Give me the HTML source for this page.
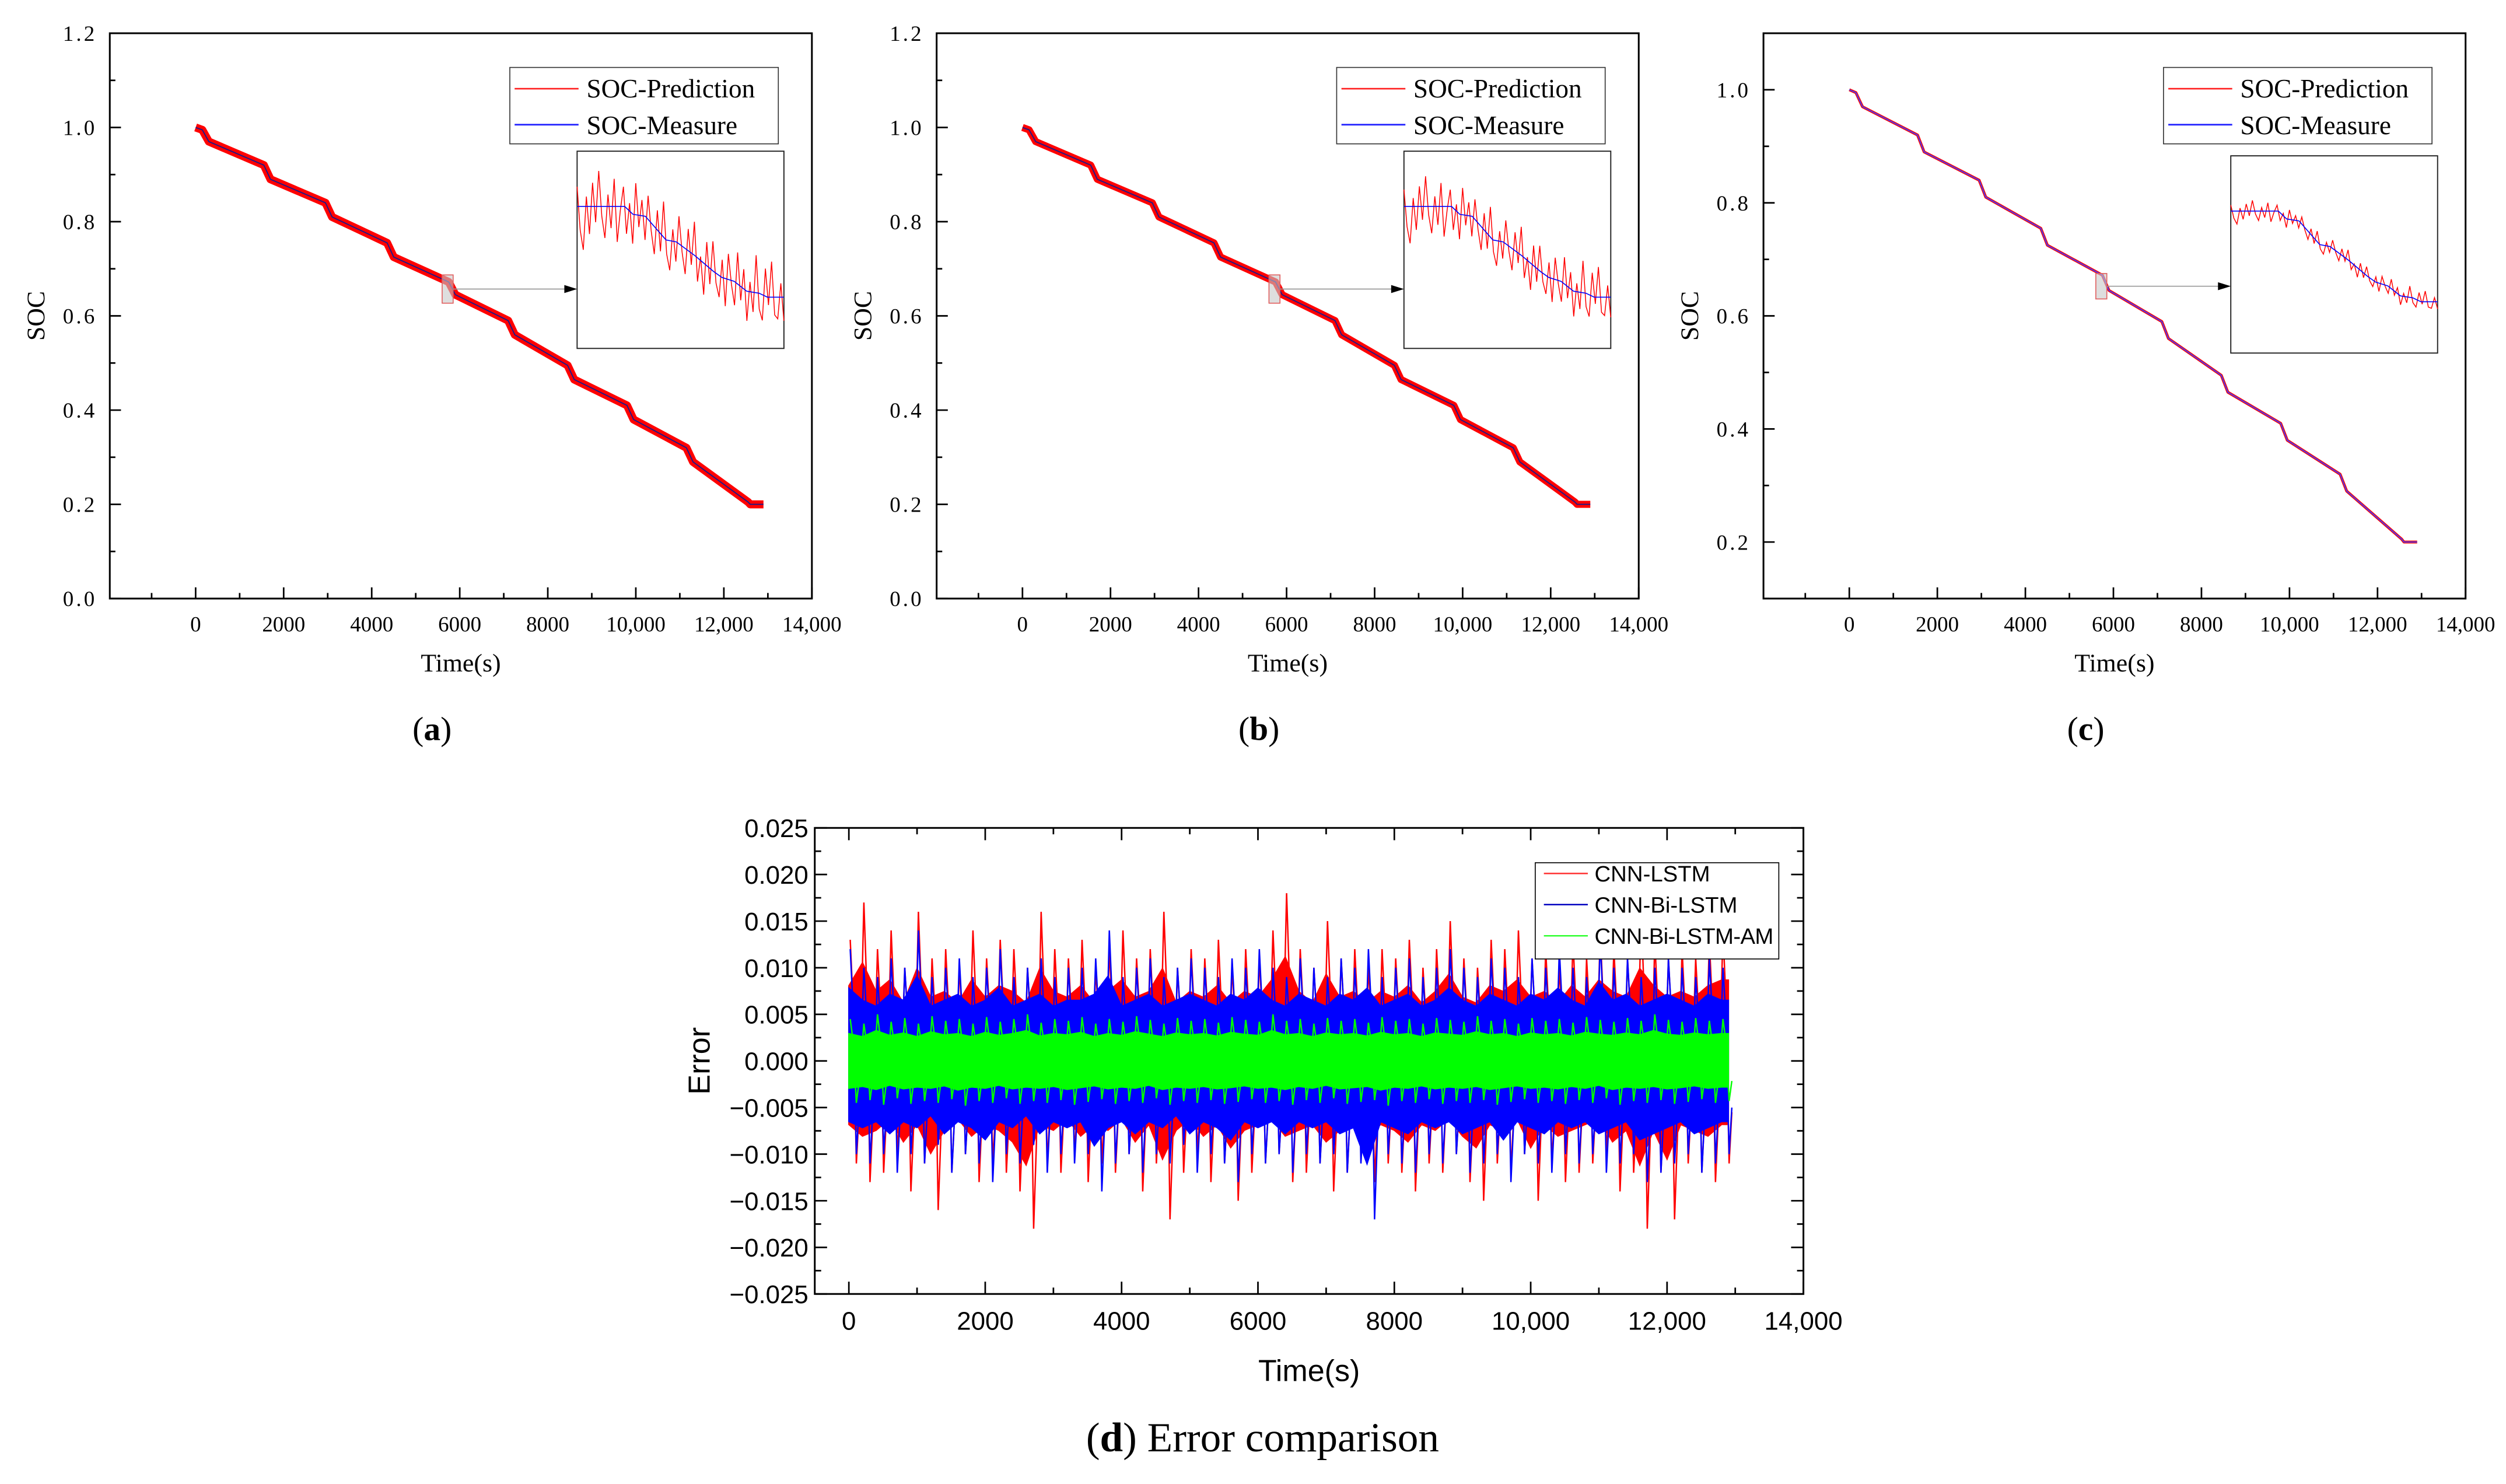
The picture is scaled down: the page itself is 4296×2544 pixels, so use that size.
<!DOCTYPE html>
<html><head><meta charset="utf-8"><title>SOC estimation and error comparison</title>
<style>html,body{margin:0;padding:0;background:#fff}svg{display:block}</style></head>
<body>
<svg id="fig" xmlns="http://www.w3.org/2000/svg" width="4296" height="2544" viewBox="0 0 1568 928.5" preserveAspectRatio="none"></svg>
<script>
// ---- data ----
const socTimes = [0,150,300,1550,1700,2950,3100,4350,4500,5750,5900,7100,7250,8450,8600,9800,9950,11150,11300,12550,12600,12900];
const socValues = [1.0,0.995,0.97,0.92,0.89,0.84,0.81,0.755,0.725,0.672,0.645,0.59,0.56,0.495,0.465,0.41,0.38,0.32,0.29,0.205,0.2,0.2];
const insetTimes = [0,23,27,33,43,48,57,66,70,76,82,88,92,100];
const insetMeasure = [0.28,0.28,0.32,0.33,0.45,0.46,0.53,0.61,0.64,0.66,0.71,0.72,0.74,0.74];
const insetDev = [-0.10,0.12,0.22,-0.05,0.14,-0.12,0.08,-0.18,0.05,0.16,-0.06,0.11,-0.14,0.18,0.02,-0.10,0.13,-0.04,0.15,-0.16,0.06,-0.08,0.12,-0.12,0.04,0.14,-0.10,0.09,-0.18,0.07,0.15,-0.06,0.10,-0.14,0.03,0.13,-0.11,0.06,-0.17,0.12,-0.02,0.16,-0.12,0.08,-0.15,0.05,0.11,-0.09,0.14,-0.13,0.02,0.12,-0.16,0.07,-0.10,0.15,-0.05,0.10,-0.19,0.08,0.13,-0.14,0.04,-0.18,0.09,0.11,-0.07,0.12];
const xTicksSoc = [0,2000,4000,6000,8000,10000,12000,14000];
const xTickLabels = ["0","2000","4000","6000","8000","10,000","12,000","14,000"];
const errTicks = [0.025,0.020,0.015,0.010,0.005,0,-0.005,-0.010,-0.015,-0.020,-0.025];
const errTickLabels = ["0.025","0.020","0.015","0.010","0.005","0.000","\u22120.005","\u22120.010","\u22120.015","\u22120.020","\u22120.025"];
const binSize = 200;
const redHi = [0.013,0.017,0.012,0.014,0.010,0.016,0.011,0.012,0.010,0.014,0.011,0.013,0.012,0.010,0.016,0.012,0.011,0.013,0.010,0.012,0.014,0.011,0.012,0.016,0.010,0.012,0.011,0.013,0.010,0.012,0.011,0.014,0.018,0.012,0.010,0.015,0.011,0.012,0.010,0.012,0.011,0.013,0.010,0.012,0.015,0.011,0.010,0.013,0.012,0.014,0.011,0.012,0.010,0.013,0.011,0.014,0.012,0.011,0.016,0.013,0.011,0.012,0.011,0.013,0.014];
const redLo = [-0.011,-0.013,-0.012,-0.010,-0.014,-0.011,-0.016,-0.012,-0.010,-0.013,-0.011,-0.012,-0.014,-0.018,-0.011,-0.012,-0.010,-0.013,-0.011,-0.012,-0.010,-0.014,-0.011,-0.017,-0.012,-0.010,-0.013,-0.011,-0.015,-0.012,-0.011,-0.010,-0.013,-0.012,-0.011,-0.014,-0.012,-0.010,-0.013,-0.011,-0.012,-0.014,-0.011,-0.012,-0.010,-0.013,-0.015,-0.011,-0.012,-0.010,-0.015,-0.011,-0.013,-0.012,-0.011,-0.010,-0.014,-0.012,-0.018,-0.012,-0.017,-0.011,-0.012,-0.013,-0.011];
const blueHi = [0.012,0.010,0.009,0.011,0.010,0.014,0.009,0.010,0.011,0.009,0.010,0.012,0.009,0.010,0.011,0.009,0.010,0.010,0.011,0.014,0.009,0.010,0.011,0.009,0.010,0.011,0.010,0.009,0.011,0.010,0.012,0.010,0.009,0.011,0.010,0.009,0.011,0.010,0.012,0.009,0.010,0.011,0.009,0.010,0.012,0.010,0.009,0.011,0.010,0.009,0.011,0.010,0.012,0.010,0.009,0.013,0.010,0.011,0.009,0.010,0.011,0.010,0.009,0.011,0.010];
const blueLo = [-0.010,-0.011,-0.010,-0.012,-0.010,-0.011,-0.009,-0.012,-0.010,-0.011,-0.013,-0.010,-0.011,-0.009,-0.012,-0.010,-0.011,-0.010,-0.014,-0.011,-0.010,-0.012,-0.010,-0.011,-0.009,-0.012,-0.010,-0.011,-0.013,-0.010,-0.011,-0.010,-0.012,-0.010,-0.011,-0.010,-0.012,-0.011,-0.017,-0.010,-0.011,-0.012,-0.010,-0.011,-0.010,-0.012,-0.011,-0.010,-0.013,-0.010,-0.011,-0.012,-0.010,-0.011,-0.010,-0.012,-0.011,-0.010,-0.013,-0.012,-0.011,-0.010,-0.012,-0.011,-0.010];
const greenHi = [0.0045,0.0040,0.0050,0.0042,0.0046,0.0040,0.0048,0.0043,0.0045,0.0040,0.0047,0.0042,0.0045,0.0050,0.0041,0.0045,0.0043,0.0047,0.0040,0.0045,0.0042,0.0048,0.0044,0.0040,0.0046,0.0043,0.0045,0.0041,0.0047,0.0044,0.0042,0.0050,0.0043,0.0045,0.0040,0.0046,0.0043,0.0045,0.0041,0.0047,0.0043,0.0045,0.0040,0.0046,0.0044,0.0042,0.0048,0.0043,0.0045,0.0040,0.0046,0.0043,0.0045,0.0041,0.0047,0.0044,0.0042,0.0046,0.0043,0.0050,0.0044,0.0042,0.0046,0.0043,0.0045];
const greenLo = [-0.0045,-0.0042,-0.0047,-0.0040,-0.0046,-0.0043,-0.0045,-0.0041,-0.0048,-0.0043,-0.0045,-0.0040,-0.0046,-0.0043,-0.0045,-0.0042,-0.0047,-0.0044,-0.0041,-0.0046,-0.0043,-0.0045,-0.0040,-0.0047,-0.0043,-0.0045,-0.0042,-0.0046,-0.0044,-0.0041,-0.0045,-0.0043,-0.0047,-0.0042,-0.0045,-0.0040,-0.0046,-0.0044,-0.0042,-0.0048,-0.0043,-0.0045,-0.0041,-0.0046,-0.0043,-0.0045,-0.0042,-0.0047,-0.0044,-0.0041,-0.0045,-0.0043,-0.0046,-0.0042,-0.0045,-0.0040,-0.0047,-0.0043,-0.0045,-0.0042,-0.0046,-0.0044,-0.0041,-0.0045,-0.0043];

const NS = "http://www.w3.org/2000/svg";
const svg = document.getElementById('fig');
function mk(tag, parent, attrs, name, inter) {
  const el = document.createElementNS(NS, tag);
  for (const k in attrs) el.setAttribute(k, attrs[k]);
  
  
  parent.appendChild(el);
  return el;
}
function txt(parent, x, y, s, size, anchor, family, name, extra) {
  const t = mk('text', parent, Object.assign({x:x, y:y, 'font-size':size, 'text-anchor':anchor, 'font-family':family, fill:'#000'}, extra||{}), name, false);
  t.textContent = s;
  return t;
}
const SERIF = '"Liberation Serif", "Noto Serif CJK SC", serif';
const SANS = '"Liberation Sans", Arial, sans-serif';
function insetAt(u) {
  for (let i = 1; i < insetTimes.length; i++) {
    if (u <= insetTimes[i]) { const f = (u - insetTimes[i-1]) / (insetTimes[i] - insetTimes[i-1]); return insetMeasure[i-1] + f * (insetMeasure[i] - insetMeasure[i-1]); }
  }
  return insetMeasure[insetMeasure.length-1];
}

function socPanel(id, dx, yMin, yMax, bandW, insetTop, devScale, caption, markT, markSoc, measureColor) {
  const g = mk('g', svg, {}, 'panel-' + id, false);
  const L = 68.7 + dx, R = 508 + dx, T = 20.8, B = 374.5;
  const xMin = -1950, xMax = 14000;
  const X = v => L + (v - xMin) / (xMax - xMin) * (R - L);
  const Y = v => B - (v - yMin) / (yMax - yMin) * (B - T);
  let d = '';
  socTimes.forEach((t, i) => { d += (i ? 'L' : 'M') + X(t).toFixed(2) + ' ' + Y(socValues[i]).toFixed(2); });
  const bandPx = bandW / (yMax - yMin) * (B - T);
  mk('path', g, {d:d, fill:'none', stroke:'#ff0000', 'stroke-width':bandPx, 'stroke-linejoin':'round'}, 'soc-prediction-line', false);
  mk('path', g, {d:d, fill:'none', stroke:measureColor, 'stroke-width':0.7}, 'soc-measure-line', false);
  mk('rect', g, {x:L, y:T, width:R-L, height:B-T, fill:'none', stroke:'#000', 'stroke-width':1.1}, 'plot-frame', false);
  for (let v = -1000; v <= 14000; v += 1000) {
    const major = (v % 2000 === 0);
    mk('line', g, {x1:X(v), x2:X(v), y1:B, y2:B - (major ? 7 : 3.5), stroke:'#000', 'stroke-width':1}, 'x-tick', false);
  }
  xTicksSoc.forEach((v, i) => txt(g, X(v), 395, xTickLabels[i], 13.5, 'middle', SERIF, 'x-tick-label'));
  const step = 0.1;
  for (let k = Math.round(yMin / step); k <= Math.round(yMax / step); k++) {
    const v = k * step;
    const major = (k % 2 === 0);
    mk('line', g, {x1:L, x2:L + (major ? 7 : 3.5), y1:Y(v), y2:Y(v), stroke:'#000', 'stroke-width':1}, 'y-tick', false);
    if (major) txt(g, L - 8, Y(v) + 4.8, v.toFixed(1), 13.5, 'end', SERIF, 'y-tick-label', {'letter-spacing':'1.5'});
  }
  txt(g, (L + R) / 2, 420, 'Time(s)', 16, 'middle', SERIF, 'x-axis-title');
  txt(g, 0, 0, 'SOC', 16, 'middle', SERIF, 'y-axis-title', {transform:'translate(' + (L - 41) + ',' + ((T + B) / 2) + ') rotate(-90)'});
  const mx1 = X(markT[0]), mx2 = X(markT[1]), my1 = Y(markSoc[1]), my2 = Y(markSoc[0]);
  mk('rect', g, {x:mx1, y:my1, width:mx2-mx1, height:my2-my1, fill:'rgba(200,200,200,0.6)', stroke:'#e06060', 'stroke-width':0.6}, 'zoom-marker', false);
  const IL = 361.1 + dx, IR = 490.5 + dx, IT = insetTop, IB = insetTop + 123.4;
  const ay = (my1 + my2) / 2;
  mk('line', g, {x1:mx2, x2:IL - 6, y1:ay, y2:ay, stroke:'#999', 'stroke-width':0.6}, 'zoom-arrow-line', false);
  mk('path', g, {d:'M' + IL + ' ' + ay + ' L' + (IL - 8) + ' ' + (ay - 2.5) + ' L' + (IL - 8) + ' ' + (ay + 2.5) + 'Z', fill:'#000'}, 'zoom-arrow-head', false);
  const ig = mk('g', g, {}, 'zoom-inset', false);
  mk('rect', ig, {x:IL, y:IT, width:IR-IL, height:IB-IT, fill:'#fff', stroke:'#222', 'stroke-width':0.7}, 'inset-frame', false);
  const IX = u => IL + u / 100 * (IR - IL);
  const IY = f => IT + f * (IB - IT);
  let pd = '';
  insetDev.forEach((dv, i) => { const u = i / (insetDev.length - 1) * 100; pd += (i ? 'L' : 'M') + IX(u).toFixed(2) + ' ' + IY(insetAt(u) + dv * devScale).toFixed(2); });
  mk('path', ig, {d:pd, fill:'none', stroke:'#ff0000', 'stroke-width':0.55}, 'inset-prediction-line', false);
  let md = '';
  insetTimes.forEach((u, i) => { md += (i ? 'L' : 'M') + IX(u).toFixed(2) + ' ' + IY(insetMeasure[i]).toFixed(2); });
  mk('path', ig, {d:md, fill:'none', stroke:'#0000ff', 'stroke-width':0.6}, 'inset-measure-line', false);
  const lg = mk('g', g, {}, 'legend', false);
  mk('rect', lg, {x:319 + dx, y:42.2, width:168, height:47.8, fill:'#fff', stroke:'#333', 'stroke-width':0.6}, 'legend-box', false);
  mk('line', lg, {x1:322 + dx, x2:362 + dx, y1:55.5, y2:55.5, stroke:'#ff2020', 'stroke-width':1}, 'legend-swatch-prediction', false);
  txt(lg, 367 + dx, 61, 'SOC-Prediction', 16.5, 'start', SERIF, 'legend-entry-prediction');
  mk('line', lg, {x1:322 + dx, x2:362 + dx, y1:78, y2:78, stroke:'#2020ff', 'stroke-width':1}, 'legend-swatch-measure', false);
  txt(lg, 367 + dx, 84, 'SOC-Measure', 16.5, 'start', SERIF, 'legend-entry-measure');
  const c = txt(g, (L + R) / 2 - 18, 463, '', 21, 'middle', SERIF, 'panel-caption');
  c.innerHTML = '(<tspan font-weight="bold">' + caption + '</tspan>)';
}
socPanel('a', 0, 0, 1.2, 0.017, 94.6, 1.0, 'a', [5600, 5850], [0.627, 0.687], '#1a1a8a');
socPanel('b', 517.35, 0, 1.2, 0.015, 94.6, 0.85, 'b', [5600, 5850], [0.627, 0.687], '#1a1a8a');
socPanel('c', 1034.7, 0.1, 1.1, 0.005, 97.5, 0.3, 'c', [5600, 5850], [0.63, 0.675], '#4040ff');

// ---- panel d ----
(function(){
  const g = mk('g', svg, {}, 'panel-d', false);
  const L = 509.8, R = 1128.4, T = 518, B = 809.6;
  const xMin = -500, xMax = 14000, yMin = -0.025, yMax = 0.025;
  const X = v => L + (v - xMin) / (xMax - xMin) * (R - L);
  const Y = v => B - (v - yMin) / (yMax - yMin) * (B - T);
  function series(hi, lo, color, name, coreFrac) {
    const n = Math.min(hi.length, lo.length);
    let core = '';
    for (let i = 0; i < n; i++) core += (i ? 'L' : 'M') + X(i * binSize).toFixed(2) + ' ' + Y(hi[i] * coreFrac).toFixed(2);
    core += 'L' + X(12900).toFixed(2) + ' ' + Y(hi[n-1] * coreFrac).toFixed(2);
    core += 'L' + X(12900).toFixed(2) + ' ' + Y(lo[n-1] * coreFrac).toFixed(2);
    for (let i = n - 1; i >= 0; i--) core += 'L' + X(i * binSize).toFixed(2) + ' ' + Y(lo[i] * coreFrac).toFixed(2);
    core += 'Z';
    mk('path', g, {d:core, fill:color, stroke:color, 'stroke-width':0.8}, name + '-core', false);
    let z = '';
    for (let i = 0; i < n; i++) {
      const t = i * binSize;
      z += (i ? 'L' : 'M') + X(t + 20).toFixed(2) + ' ' + Y(hi[i]).toFixed(2);
      z += 'L' + X(t + 60).toFixed(2) + ' ' + Y(hi[i] * 0.5).toFixed(2);
      z += 'L' + X(t + 110).toFixed(2) + ' ' + Y(lo[i]).toFixed(2);
      z += 'L' + X(t + 150).toFixed(2) + ' ' + Y(lo[i] * 0.5).toFixed(2);
    }
    mk('path', g, {d:z, fill:'none', stroke:color, 'stroke-width':0.9, 'stroke-linejoin':'miter'}, name + '-line', false);
  }
  series(redHi, redLo, '#ff0000', 'cnn-lstm', 0.62);
  series(blueHi, blueLo, '#0000ff', 'cnn-bi-lstm', 0.65);
  series(greenHi, greenLo, '#00ff00', 'cnn-bi-lstm-am', 0.65);
  mk('rect', g, {x:L, y:T, width:R-L, height:B-T, fill:'none', stroke:'#000', 'stroke-width':1.1}, 'plot-frame', false);
  for (let v = 0; v <= 14000; v += 1000) {
    const major = (v % 2000 === 0), len = major ? 7.7 : 4;
    mk('line', g, {x1:X(v), x2:X(v), y1:B, y2:B - len, stroke:'#000', 'stroke-width':1}, 'x-tick', false);
    mk('line', g, {x1:X(v), x2:X(v), y1:T, y2:T + len, stroke:'#000', 'stroke-width':1}, 'x-tick-top', false);
  }
  xTicksSoc.forEach((v, i) => txt(g, X(v), 832, xTickLabels[i], 16, 'middle', SANS, 'x-tick-label'));
  for (let k = -10; k <= 10; k++) {
    const v = k * 0.0025, major = (k % 2 === 0), len = major ? 7.7 : 4;
    mk('line', g, {x1:L, x2:L + len, y1:Y(v), y2:Y(v), stroke:'#000', 'stroke-width':1}, 'y-tick', false);
    mk('line', g, {x1:R, x2:R - len, y1:Y(v), y2:Y(v), stroke:'#000', 'stroke-width':1}, 'y-tick-right', false);
  }
  errTicks.forEach((v, i) => txt(g, L - 4, Y(v) + 5.8, errTickLabels[i], 16, 'end', SANS, 'y-tick-label'));
  txt(g, (L + R) / 2, 864, 'Time(s)', 19, 'middle', SANS, 'x-axis-title');
  txt(g, 0, 0, 'Error', 19, 'middle', SANS, 'y-axis-title', {transform:'translate(444,' + ((T + B) / 2) + ') rotate(-90)'});
  const lg = mk('g', g, {}, 'legend', false);
  mk('rect', lg, {x:960.6, y:539.8, width:152.4, height:60.2, fill:'#fff', stroke:'#000', 'stroke-width':0.6}, 'legend-box', false);
  const names = ['CNN-LSTM','CNN-Bi-LSTM','CNN-Bi-LSTM-AM'], cols = ['#ff3030','#0000c0','#30ff30'], ys = [546.5, 566, 585.5];
  names.forEach((s, i) => {
    mk('line', lg, {x1:966, x2:993.5, y1:ys[i], y2:ys[i], stroke:cols[i], 'stroke-width':0.9}, 'legend-swatch', false);
    txt(lg, 997.7, ys[i] + 5, s, 14, 'start', SANS, 'legend-entry', {textLength: s.length > 12 ? 112 : null});
  });
  const c = txt(g, 790, 908, '', 26, 'middle', SERIF, 'panel-caption');
  c.innerHTML = '(<tspan font-weight="bold">d</tspan>) Error comparison';
})();
</script>
</body></html>
